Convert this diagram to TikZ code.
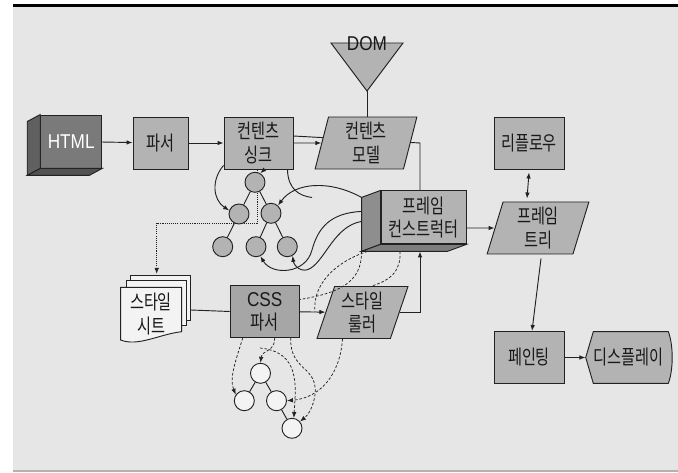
\documentclass[tikz,border=0pt]{standalone}
\usepackage{fontspec}
\setmainfont{Noto Sans CJK KR}[FakeStretch=0.76]
\newfontfamily\latinfont{Liberation Sans}[FakeStretch=0.86]
\usetikzlibrary{shapes.geometric,calc,backgrounds,arrows.meta}

\definecolor{bgc}{HTML}{E6E6E6}
\definecolor{boxc}{HTML}{B3B3B3}
\definecolor{cssc}{HTML}{A6A6A6}
\definecolor{htmlf}{HTML}{7A7A7A}
\definecolor{htmls}{HTML}{606060}
\definecolor{htmlb}{HTML}{525252}
\definecolor{fcside}{HTML}{8E8E8E}
\definecolor{fcbot}{HTML}{7E7E7E}
\definecolor{paper}{HTML}{F3F3F3}
\definecolor{linec}{HTML}{222222}

\begin{document}
\begin{tikzpicture}[x=0.75pt,y=-0.75pt,
  every node/.style={font=\fontsize{15}{17.5}\selectfont, text=black!90, align=center},
  box/.style={rectangle, draw=linec, fill=boxc, line width=0.7pt, minimum width=#1, minimum height=39pt, inner sep=0pt},
  box/.default=51.75pt,
  para/.style={trapezium, draw=linec, fill=boxc, line width=0.7pt, trapezium stretches body, minimum height=39pt, inner sep=0pt},
  circ/.style={circle, draw=linec, fill=boxc, line width=0.7pt, minimum size=15pt, inner sep=0pt},
  wcirc/.style={circ, fill=paper},
  face/.style={draw=linec, line width=0.7pt},
  line/.style={draw=linec, line width=0.7pt},
  dotline/.style={line, dash pattern=on 0.8pt off 0.8pt},
  dashline/.style={line, line width=0.55pt, dash pattern=on 2pt off 1.4pt},
  >={Latex[length=4.5pt,width=3.4pt]}]

  % Frame of the figure
  \useasboundingbox (0,0) rectangle (678,473);
  \begin{pgfonlayer}{background}
    \fill[bgc] (13,6.7) rectangle (678,471);
  \end{pgfonlayer}
  \draw[line width=2pt] (13,5.3) -- (678,5.3);
  \draw[black!30, line width=0.9pt] (13,471) -- (678,471);

  % HTML input block (3D box)
  \node[box=45.75pt, minimum height=39.75pt, fill=htmlf, text=white] (html) at (71.2,141.5) {\latinfont HTML};
  \draw[face, fill=htmls] (html.north west) -- ++(-13,7) -- ($(html.south west)+(-13,7)$) -- (html.south west) -- cycle;
  \draw[face, fill=htmlb] (html.south west) -- ++(-13,7) -- ($(html.south east)+(-13,7)$) -- (html.south east) -- cycle;

  % Top row
  \node[box=41.25pt] (parser) at (160.5,143) {파서};
  \node[box] (sink) at (258.5,143) {컨텐츠\\싱크};
  \node[para, trapezium left angle=72, trapezium right angle=108, minimum width=76.3pt] (model) at (366,143) {컨텐츠\\모델};
  \node[box=52.5pt] (reflow) at (529,143) {리플로우};

  % DOM triangle
  \coordinate (domtip) at (367,91);
  \draw[face, fill=boxc] (331,43) -- (403,43) -- (domtip) -- cycle;
  \node (dom) at (367,44) {\latinfont DOM};

  % Frame constructor (3D box)
  \node[box=63.75pt, minimum height=39.75pt] (fcons) at (423.5,217.4) {프레임\\컨스트럭터};
  \draw[face, fill=fcside] (fcons.north west) -- ++(-19,7) -- ($(fcons.south west)+(-19,7)$) -- (fcons.south west) -- cycle;
  \draw[face, fill=fcbot] (fcons.south west) -- ++(-19,7) -- ($(fcons.south east)+(-19,7)$) -- (fcons.south east) -- cycle;

  \node[para, trapezium left angle=69, trapezium right angle=111, minimum width=76.3pt] (ftree) at (538,228) {프레임\\트리};

  % Content tree
  \node[circ] (t1) at (255,182.3) {};
  \node[circ] (ml) at (239,214) {};
  \node[circ] (mr) at (271,213.3) {};
  \node[circ] (bl) at (222.7,246.7) {};
  \node[circ] (bm) at (256,246.7) {};
  \node[circ] (br) at (287.3,246.7) {};
  \draw[line] (t1) -- (ml);
  \draw[line] (t1) -- (mr);
  \draw[line] (ml) -- (bl);
  \draw[line] (mr) -- (bm);
  \draw[line] (mr) -- (br);

  % Style sheet (stack of pages)
  \draw[face, fill=paper] (130.7,275) rectangle (190.7,320);
  \draw[face, fill=paper] (126.7,280.7) rectangle (186.7,325);
  \draw[face, fill=paper] (120.7,287.3) -- (181.7,287.3) -- (181.7,331.7)
    .. controls (160,334) and (138,347) .. (120.7,340) -- cycle;
  \node (sheet) at (151,314) {스타일\\시트};
  \coordinate (sheettop) at (156.7,274);
  \coordinate (sheetr) at (190.7,310);

  % Bottom row
  \node[box, fill=cssc] (css) at (264.7,311.5) {\latinfont CSS\\파서};
  \node[para, trapezium left angle=67, trapezium right angle=113, minimum width=68.25pt] (ruler) at (362.5,312.5) {스타일\\룰러};
  \node[box=52.5pt] (paint) at (529,357.5) {페인팅};
  \draw[face, fill=boxc] (585.7,357.5) -- (593.3,331.7) -- (668.3,331.7)
    .. controls (673.5,345) and (673.5,370) .. (668.3,383.3) -- (593.3,383.3) -- cycle;
  \node[minimum width=64.5pt, inner sep=0pt] (display) at (628.7,357.5) {디스플레이};

  % Style tree
  \node[wcirc] (wt) at (260.5,373.3) {};
  \node[wcirc] (wl) at (244.3,400.7) {};
  \node[wcirc] (wr) at (276.5,400.7) {};
  \node[wcirc] (wb) at (292,428.3) {};
  \draw[line] (wt) -- (wl);
  \draw[line] (wt) -- (wr);
  \draw[line] (wr) -- (wb);

  % Main flow
  \draw[line, ->] (html) -- (parser);
  \draw[line, ->] (parser) -- (sink);
  \draw[line, ->] (sink) -- (model);
  \draw[line] (domtip) -- (domtip |- model.north);
  \draw[line, ->] (fcons.east |- ftree) -- (ftree);
  \draw[line, <->] ($(reflow.south)+(0,3)$) -- ($(ftree.north)+(-11,-3)$);
  \draw[line, ->] ($(ftree.south)+(3,4)$) -- ($(paint.north)+(3,0)$);
  \draw[line, ->] (paint) -- (display.west);
  \draw[line] (sheetr) -- (css.west);
  \draw[line, ->] (css) -- (ruler);
  \draw[line, ->] (ruler.east) -| ($(fcons.south)+(-3.5,7)$);

  % Lines passing behind boxes and nodes
  \coordinate (mc) at (420,143);
  \begin{pgfonlayer}{background}
    \draw[line] ($(sink.east)+(0,-7)$) -- (mc) -- (mc |- fcons.north);
    \draw[dotline, ->] ($(sink.south)+(-1.5,0)$) -- ++(0,53.7) -| (sheettop);
  \end{pgfonlayer}

  % Curves around the content tree
  \coordinate (cend) at (312,197.5);
  \draw[line, ->] ($(sink.south west)+(0,-4)$) .. controls (211,180) and (213,200) .. (ml.160);
  \draw[line, ->] ($(sink.south)+(6,0)$) -- (t1.60);
  \draw[line] ($(sink.south east)+(-6,0)$) .. controls (288,190) and (300,196) .. (cend);
  \draw[line, ->] ($(fcons.north west)+(-19,7)$) .. controls (330,180) and (295,182) .. (mr.48);
  \draw[line, ->] ($(fcons.north west)+(-19,21)$) .. controls (330,213) and (318,228) .. (312,250)
    .. controls (306,274) and (272,276) .. (bm.-65);
  \draw[line, ->] ($(fcons.north west)+(-19,31)$) .. controls (335,226) and (326,258) .. (311,268)
    .. controls (302,274) and (294,266) .. (br.-60);

  % Dashed links around the style tree
  \coordinate (aend) at (315,312);
  \coordinate (e3s) at (260,348);
  \draw[dashline] ($(fcons.south west)+(-13,7)$) .. controls (335,262) and (312,285) .. (aend);
  \draw[dashline] ($(fcons.south west)+(-19,7)$) .. controls (362,282) and (340,293) .. ($(css.east)+(0,-12)$);
  \draw[dashline] ($(fcons.south)+(-23.5,7)$) .. controls (401,270) and (392,280) .. ($(ruler.north)+(9,0)$);
  \draw[dashline, ->] ($(css.south west)+(13,0)$) .. controls (236,360) and (229,378) .. (wl.145);
  \draw[dashline, ->] ($(css.south)+(10,0)$) .. controls (275,352) and (262,350) .. (wt.north);
  \draw[dashline, ->] (e3s) .. controls (300,352) and (296,385) .. (wb.80);
  \draw[dashline, ->] ($(css.south east)+(-9,0)$) .. controls (290,372) and (318,365) .. (315,395)
    .. controls (313,408) and (308,415) .. (wb.40);
  \draw[dashline, ->] ($(ruler.south)+(-20,0)$) .. controls (340,375) and (320,398) .. (wr.east);
\end{tikzpicture}
\end{document}
